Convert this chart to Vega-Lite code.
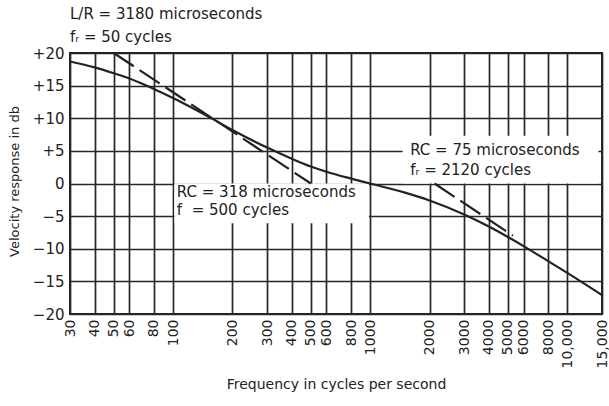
{
  "$schema": "https://vega.github.io/schema/vega-lite/v6.json",
  "width": 532,
  "height": 261,
  "autosize": "none",
  "padding": {"left": 70, "top": 53, "right": 7, "bottom": 92},
  "background": "white",
  "config": {
    "view": {"stroke": "#222", "strokeWidth": 2},
    "font": "DejaVu Sans",
    "axis": {
      "gridColor": "#262626",
      "gridOpacity": 1,
      "gridWidth": 1.7,
      "domain": false,
      "ticks": false,
      "labelColor": "#222",
      "titleColor": "#222",
      "labelFont": "DejaVu Sans",
      "titleFont": "DejaVu Sans",
      "titleFontWeight": "normal"
    }
  },
  "encoding": {
    "x": {
      "field": "f",
      "type": "quantitative",
      "scale": {"type": "log", "domain": [30, 15000], "nice": false},
      "axis": {
        "values": [30, 40, 50, 60, 80, 100, 200, 300, 400, 500, 600, 800, 1000, 2000, 3000, 4000, 5000, 6000, 8000, 10000, 15000],
        "labelExpr": "datum.value == 10000 ? '10,000' : datum.value == 15000 ? '15,000' : '' + datum.value",
        "labelAngle": 270,
        "labelFontSize": 14,
        "labelPadding": 5,
        "labelOverlap": false,
        "labelBound": false,
        "labelFlush": false,
        "title": "Frequency in cycles per second",
        "titleFontSize": 14,
        "titleBaseline": "alphabetic",
        "titleX": 266,
        "titleY": 74,
        "titleAnchor": "middle"
      }
    },
    "y": {
      "field": "db",
      "type": "quantitative",
      "scale": {"domain": [-20, 20], "nice": false, "zero": false},
      "axis": {
        "values": [-20, -15, -10, -5, 0, 5, 10, 15, 20],
        "labelExpr": "datum.value > 0 ? '+' + datum.value : datum.value < 0 ? '\u2212' + (-datum.value) : '0'",
        "labelFontSize": 15,
        "labelPadding": 6,
        "title": "Velocity response in db",
        "titleFontSize": 13,
        "titleX": -52,
        "titleY": 128,
        "titleAngle": 270,
        "titleBaseline": "alphabetic",
        "titleAlign": "center"
      }
    }
  },
  "layer": [
    {
      "data": {"values": [
        {"f": 101.5, "f2": 985, "db": 0, "db2": -6.1},
        {"f": 1460, "f2": 14400, "db": 0, "db2": 7.3}
      ]},
      "mark": {"type": "rect", "fill": "white", "stroke": null},
      "encoding": {
        "x2": {"field": "f2"},
        "y2": {"field": "db2"}
      }
    },
    {
      "data": {"values": [
        {"f": 30, "db": 18.7},
        {"f": 40, "db": 17.8},
        {"f": 50, "db": 16.9},
        {"f": 60, "db": 16.1},
        {"f": 80, "db": 14.5},
        {"f": 100, "db": 13.1},
        {"f": 150, "db": 10.3},
        {"f": 200, "db": 8.2},
        {"f": 300, "db": 5.5},
        {"f": 400, "db": 3.8},
        {"f": 500, "db": 2.6},
        {"f": 600, "db": 1.8},
        {"f": 800, "db": 0.75},
        {"f": 1000, "db": 0},
        {"f": 1500, "db": -1.4},
        {"f": 2000, "db": -2.6},
        {"f": 3000, "db": -4.75},
        {"f": 4000, "db": -6.6},
        {"f": 5000, "db": -8.2},
        {"f": 6000, "db": -9.6},
        {"f": 8000, "db": -11.9},
        {"f": 10000, "db": -13.7},
        {"f": 15000, "db": -17.1}
      ]},
      "mark": {"type": "line", "color": "#222", "strokeWidth": 2.2, "interpolate": "monotone"}
    },
    {
      "data": {"values": [
        {"seg": "lo", "f": 50, "db": 20},
        {"seg": "lo", "f": 500, "db": 0},
        {"seg": "hi", "f": 2120, "db": 0},
        {"seg": "hi", "f": 5300, "db": -8}
      ]},
      "mark": {"type": "line", "color": "#222", "strokeWidth": 2.2, "strokeDash": [24, 7]},
      "encoding": {"detail": {"field": "seg"}}
    },
    {
      "data": {"values": [
        {"f": 30, "db": 25.2, "label": "L/R = 3180 microseconds"},
        {"f": 30, "db": 21.7, "label": "fᵣ = 50 cycles"},
        {"f": 104.5, "db": -2.1, "label": "RC = 318 microseconds"},
        {"f": 104.5, "db": -4.8, "label": "f\u00a0\u00a0= 500 cycles"},
        {"f": 1596, "db": 4.4, "label": "RC = 75 microseconds"},
        {"f": 1596, "db": 1.3, "label": "fᵣ = 2120 cycles"}
      ]},
      "mark": {"type": "text", "align": "left", "baseline": "alphabetic", "fontSize": 15, "color": "#222", "font": "DejaVu Sans"},
      "encoding": {"text": {"field": "label"}}
    }
  ]
}
